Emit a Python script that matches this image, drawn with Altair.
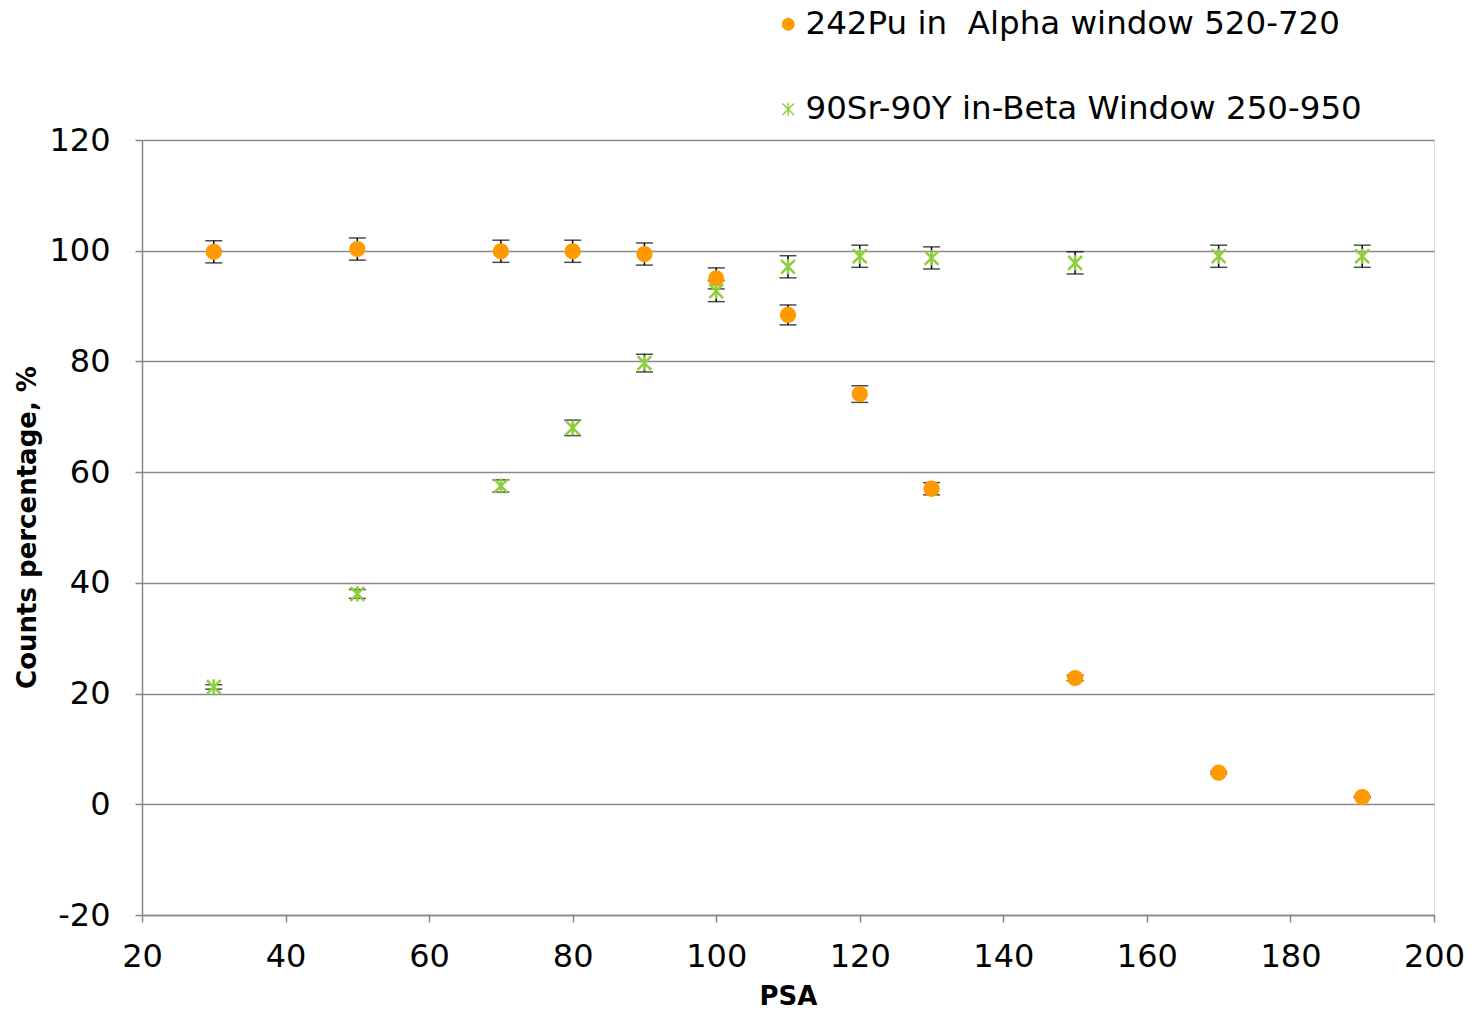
import altair as alt
import pandas as pd

psa = [30, 50, 70, 80, 90, 100, 110, 120, 130, 150, 170, 190]
pu_vals = [99.8, 100.3, 99.9, 99.9, 99.4, 95.0, 88.4, 74.1, 57.0, 22.8, 5.7, 1.3]
pu_err = [2.0, 2.0, 2.0, 2.0, 2.0, 1.9, 1.8, 1.5, 1.1, 0.5, 0.2, 0.1]
sr_vals = [21.2, 38.0, 57.5, 68.0, 79.7, 92.7, 97.1, 99.0, 98.7, 97.8, 99.0, 99.0]
sr_err = [0.4, 0.8, 1.1, 1.4, 1.6, 1.9, 2.0, 2.0, 2.0, 2.0, 2.0, 2.0]

series = ["242Pu in \u00a0Alpha window 520-720", "90Sr-90Y in-Beta Window 250-950"]
colors = ["#ff9a00", "#8ccf3a"]
shapes = ["circle", "M-1,-1L1,1M-1,1L1,-1M0,-1.1L0,1.1"]

rows = []
for x, v, e in zip(psa, pu_vals, pu_err):
    rows.append({"psa": x, "val": v, "lo": v - e, "hi": v + e, "series": series[0]})
for x, v, e in zip(psa, sr_vals, sr_err):
    rows.append({"psa": x, "val": v, "lo": v - e, "hi": v + e, "series": series[1]})
df = pd.DataFrame(rows)

xs = alt.Scale(domain=[20, 200], nice=False)
ys = alt.Scale(domain=[-20, 120], nice=False)

base = alt.Chart(df)

rule = base.mark_rule(color="black", strokeWidth=1.5).encode(
    x=alt.X("psa:Q", scale=xs),
    y=alt.Y("lo:Q", scale=ys),
    y2="hi:Q",
)
cap_lo = base.mark_tick(color="black", orient="horizontal", size=17, thickness=1.5).encode(
    x=alt.X("psa:Q", scale=xs), y=alt.Y("lo:Q", scale=ys)
)
cap_hi = base.mark_tick(color="black", orient="horizontal", size=17, thickness=1.5).encode(
    x=alt.X("psa:Q", scale=xs), y=alt.Y("hi:Q", scale=ys)
)

cscale = alt.Scale(domain=series, range=colors)
leg = alt.Legend(
    title=None,
    orient="none",
    legendX=630,
    legendY=-132,
    labelFont="DejaVu Sans",
    labelFontSize=32.5,
    labelColor="black",
    labelLimit=800,
    rowPadding=52,
    symbolSize=130,
    symbolStrokeWidth=1.5,
    labelOffset=1,
)

label_expr = "datum.value < 0 ? '-' + abs(datum.value) : datum.label"

points = base.mark_point(filled=True, size=190, strokeWidth=2.5, opacity=1).encode(
    x=alt.X(
        "psa:Q",
        scale=xs,
        axis=alt.Axis(
            title="PSA",
            values=list(range(20, 201, 20)),
            grid=False,
            labelFlush=False,
            labelFont="DejaVu Sans",
            labelFontSize=32,
            labelColor="black",
            labelPadding=19,
            tickSize=7,
            tickColor="#868686",
            tickWidth=1.5,
            domainColor="#868686",
            domainWidth=1.5,
            titleFont="DejaVu Sans",
            titleFontSize=26,
            titleFontWeight="bold",
            titleColor="black",
            titlePadding=11,
        ),
    ),
    y=alt.Y(
        "val:Q",
        scale=ys,
        axis=alt.Axis(
            title="Counts percentage, %",
            values=list(range(-20, 121, 20)),
            labelExpr=label_expr,
            grid=True,
            gridColor="#8a8a8a",
            gridWidth=1.5,
            labelFont="DejaVu Sans",
            labelFontSize=32,
            labelColor="black",
            labelPadding=25,
            tickSize=7,
            tickColor="#868686",
            tickWidth=1.5,
            domainColor="#868686",
            domainWidth=1.5,
            titleFont="DejaVu Sans",
            titleFontSize=26,
            titleFontWeight="bold",
            titleColor="black",
            titleX=-102,
            titleY=387,
        ),
    ),
    fill=alt.Fill("series:N", scale=cscale, legend=leg, sort=series),
    stroke=alt.Stroke("series:N", scale=cscale, legend=leg, sort=series),
    shape=alt.Shape("series:N", scale=alt.Scale(domain=series, range=shapes), legend=leg, sort=series),
)

chart = (
    alt.layer(rule, cap_lo, cap_hi, points)
    .properties(
        width=1292,
        height=775,
        autosize=alt.AutoSizeParams(type="none"),
        padding={"left": 134, "top": 132, "right": 30, "bottom": 90},
    )
    .configure_view(stroke=None)
    .configure(background="white")
)

chart.save("out.html", embed_options={"renderer": "svg", "actions": False})
